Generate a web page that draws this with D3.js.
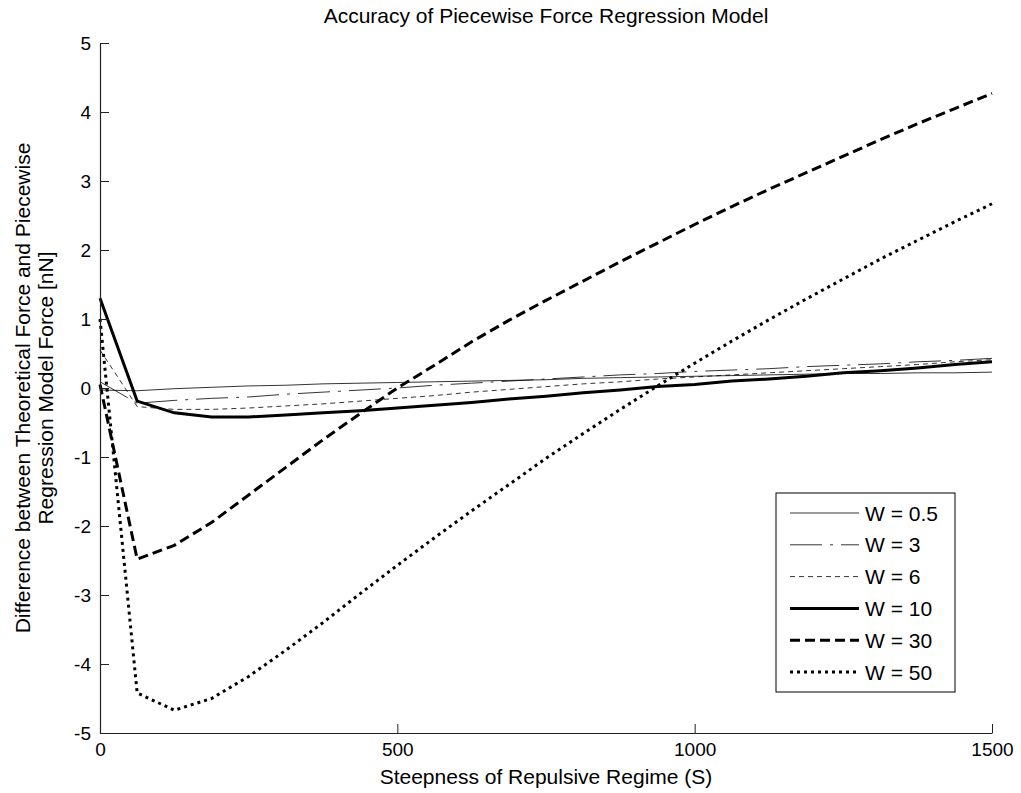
<!DOCTYPE html>
<html>
<head>
<meta charset="utf-8">
<script src="https://cdn.jsdelivr.net/npm/d3@7"></script>
<style>
  body { margin: 0; background: #fff; }
  text { font-family: "Liberation Sans", Arial, sans-serif; fill: #000; }
</style>
</head>
<body>
<svg id="chart" width="1021" height="793"></svg>
<script>
// steepness values (x), 25 samples from 0 to 1500
var sValues = [0, 62.5, 125, 187.5, 250, 312.5, 375, 437.5, 500, 562.5, 625, 687.5, 750,
  812.5, 875, 937.5, 1000, 1062.5, 1125, 1187.5, 1250, 1312.5, 1375, 1437.5, 1500];

var w05 = [-0.03, -0.04, -0.01, 0.01, 0.03, 0.04, 0.06, 0.07, 0.08, 0.09, 0.10, 0.11, 0.12,
  0.14, 0.15, 0.16, 0.17, 0.18, 0.19, 0.20, 0.21, 0.21, 0.22, 0.22, 0.23];
var w3 = [0.09, -0.22, -0.18, -0.15, -0.13, -0.09, -0.06, -0.03, 0.00, 0.04, 0.07, 0.10, 0.13,
  0.16, 0.19, 0.21, 0.24, 0.26, 0.28, 0.31, 0.33, 0.35, 0.38, 0.40, 0.43];
var w6 = [0.55, -0.27, -0.31, -0.31, -0.29, -0.26, -0.23, -0.19, -0.15, -0.11, -0.06, -0.02, 0.02,
  0.06, 0.09, 0.13, 0.16, 0.19, 0.22, 0.25, 0.28, 0.31, 0.34, 0.38, 0.41];
var w10 = [1.3, -0.19, -0.36, -0.42, -0.42, -0.39, -0.36, -0.33, -0.29, -0.25, -0.21, -0.16, -0.12,
  -0.07, -0.03, 0.02, 0.05, 0.10, 0.13, 0.17, 0.22, 0.25, 0.29, 0.34, 0.38];
var w30 = [0.05, -2.48, -2.28, -1.95, -1.55, -1.15, -0.75, -0.37, 0.0, 0.33, 0.67, 0.98, 1.27,
  1.55, 1.83, 2.10, 2.37, 2.63, 2.88, 3.12, 3.36, 3.60, 3.83, 4.05, 4.27];
var w50 = [1.0, -4.42, -4.67, -4.50, -4.18, -3.80, -3.40, -2.98, -2.57, -2.17, -1.78, -1.40, -1.02,
  -0.66, -0.31, 0.03, 0.36, 0.68, 0.99, 1.29, 1.58, 1.87, 2.14, 2.41, 2.67];

var seriesNames = ["W = 0.5", "W = 3", "W = 6", "W = 10", "W = 30", "W = 50"];
var xTicks = [0, 500, 1000, 1500];
var yTicks = [-5, -4, -3, -2, -1, 0, 1, 2, 3, 4, 5];

var styles = [
  { width: 0.8, dash: null },
  { width: 0.8, dash: "32,8,3,8" },
  { width: 0.8, dash: "5,4" },
  { width: 3, dash: null },
  { width: 3, dash: "10,5" },
  { width: 3, dash: "3,4" }
];

var allSeries = [w05, w3, w6, w10, w30, w50].map(function (vals, i) {
  return { name: seriesNames[i], style: styles[i],
    points: vals.map(function (v, j) { return [sValues[j], v]; }) };
});

var margin = { top: 43, right: 29, bottom: 60, left: 100 },
  width = 1021 - margin.left - margin.right,
  height = 793 - margin.top - margin.bottom;

var svg = d3.select("#chart");
var g = svg.append("g").attr("transform", "translate(" + margin.left + "," + margin.top + ")");

var x = d3.scaleLinear().domain([0, 1500]).range([0, width]);
var y = d3.scaleLinear().domain([-5, 5]).range([height, 0]);

var line = d3.line()
  .x(function (d) { return x(d[0]); })
  .y(function (d) { return y(d[1]); });

// plain hyphen minus, no thousands separator
var plain = function (d) { return String(d); };

// series
g.selectAll("path.series")
  .data(allSeries)
  .enter().append("path")
  .attr("class", "series")
  .attr("fill", "none")
  .attr("stroke", "#000")
  .attr("stroke-width", function (d) { return d.style.width; })
  .attr("stroke-dasharray", function (d) { return d.style.dash; })
  .attr("d", function (d) { return line(d.points); });

// axes, MATLAB style ticks pointing inward
var xAxis = g.append("g")
  .attr("transform", "translate(0," + height + ")")
  .call(d3.axisBottom(x).tickValues(xTicks).tickFormat(plain)
    .tickSizeInner(-9).tickSizeOuter(0).tickPadding(6));
var yAxis = g.append("g")
  .call(d3.axisLeft(y).tickValues(yTicks).tickFormat(plain)
    .tickSizeInner(-9).tickSizeOuter(0).tickPadding(6));

[xAxis, yAxis].forEach(function (a) {
  a.select(".domain").attr("stroke", "#222").attr("stroke-width", 1.2);
  a.selectAll(".tick line").attr("stroke", "#222");
  a.selectAll(".tick text").style("font-size", "19px").attr("fill", "#000");
});
xAxis.selectAll(".tick text").attr("dy", "0.9em");
yAxis.selectAll(".tick text").attr("dx", "-3");

// title and labels
svg.append("text")
  .attr("x", margin.left + width / 2).attr("y", 23)
  .attr("text-anchor", "middle").style("font-size", "21px")
  .text("Accuracy of Piecewise Force Regression Model");

svg.append("text")
  .attr("x", margin.left + width / 2).attr("y", 784)
  .attr("text-anchor", "middle").style("font-size", "21px")
  .text("Steepness of Repulsive Regime (S)");

var yl = svg.append("text")
  .attr("transform", "translate(30," + (margin.top + height / 2) + ") rotate(-90)")
  .attr("text-anchor", "middle").style("font-size", "21px");
yl.append("tspan").attr("x", 0).attr("y", 0).text("Difference between Theoretical Force and Piecewise");
yl.append("tspan").attr("x", 0).attr("y", 23).text("Regression Model Force [nN]");

// legend
var legend = svg.append("g").attr("transform", "translate(776,493)");
legend.append("rect")
  .attr("width", 179).attr("height", 199)
  .attr("fill", "#fff").attr("stroke", "#000").attr("stroke-width", 1);

var rows = legend.selectAll("g.row")
  .data(allSeries)
  .enter().append("g")
  .attr("class", "row")
  .attr("transform", function (d, i) { return "translate(0," + (20 + i * 31.8) + ")"; });

rows.append("line")
  .attr("x1", 14).attr("x2", 83)
  .attr("stroke", "#000")
  .attr("stroke-width", function (d) { return d.style.width; })
  .attr("stroke-dasharray", function (d) { return d.style.dash; });

rows.append("text")
  .attr("x", 89).attr("dy", "0.36em")
  .style("font-size", "21px")
  .text(function (d) { return d.name; });
</script>
</body>
</html>
